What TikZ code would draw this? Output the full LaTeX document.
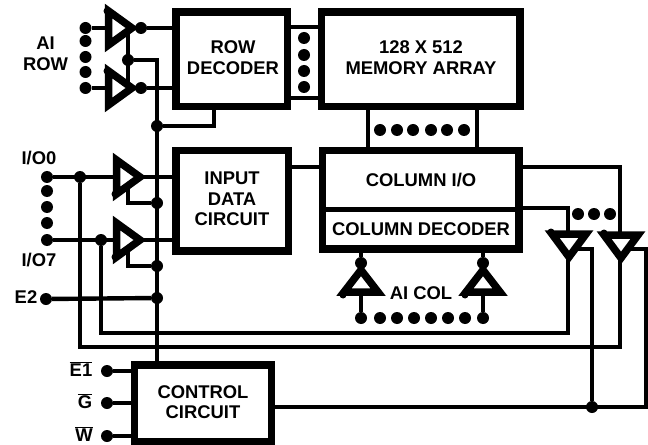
\documentclass[tikz,border=0pt]{standalone}
\usepackage{fontspec}
\setmainfont{Liberation Sans}[BoldFont={Liberation Sans Bold}]
\def\u{0.75pt}
\tikzset{
  x=0.75pt,y=-0.75pt,
  blockbox/.style={draw=black,line width=7.5*\u,fill=white,rectangle,inner sep=0pt,outer sep=0pt,miter limit=10},
  wire/.style={draw=black,line width=4.4*\u},
  bufshape/.style={draw=black,fill=white,line width=7.5*\u,line join=miter,miter limit=10},
  junction/.style={circle,fill=black,draw=none,inner sep=0pt,outer sep=0pt,minimum size=12*\u},
  knob/.style={circle,fill=black,draw=none,inner sep=0pt,outer sep=0pt,minimum size=7*\u},
  txt/.style={inner sep=0pt,outer sep=0pt,align=center,font=\bfseries\fontsize{13.8}{15.5}\selectfont},
}
\begin{document}
\begin{tikzpicture}
\useasboundingbox (0,0) rectangle (648,445);
% blocks
\node[blockbox,minimum width=111.5*\u,minimum height=94.5*\u] (rowdec) at (231.75,59.25) {};
\node[blockbox,minimum width=198.5*\u,minimum height=94.5*\u] (mem) at (420.75,59.5) {};
\node[blockbox,minimum width=112.5*\u,minimum height=100.5*\u] (inp) at (232.25,200.75) {};
\node[blockbox,minimum width=196.5*\u,minimum height=98.5*\u] (col) at (420.75,199.75) {};
\node[blockbox,minimum width=137*\u,minimum height=77*\u] (ctl) at (203,403.5) {};
\draw[line width=5*\u] (col.west |- 0,209) -- (col.east |- 0,209);
% terminals and junctions
\foreach \n/\px/\py in {a0/85.5/28,a1/85.5/41,a2/85.5/57,a3/85.5/72,a4/85.5/88,
  r0/141/28,r1/141/88,ren/128/60,bus/157/126,
  d0/47/177,d1/47/191,d2/47/207,d3/47/223,d4/47/240,
  i0/80/177,i7/101/240,en0/157/203,en7/157/266,e2t/46/299,e2j/157/298,
  m0/304/38,m1/304/55,m2/304/71,m3/304/87,
  c0/380/130,c1/397/130,c2/413/130,c3/431/130,c4/447/130,c5/464/130,
  o0/578/214,o1/594/214,o2/610/214,
  ctj/592/407,
  e1/107/371,g/107/403,w/107/436,
  up0/361/263,up1/483/263,
  s0/361/318,s1/380/318,s2/397/318,s3/414/318,s4/431/318,s5/448/318,s6/465/318,s7/483/318}
  \node[junction] (\n) at (\px,\py) {};
% named corner points
\coordinate (busTop) at (157,60);
\coordinate (busRow) at (214,126);
\coordinate (en0c) at (128,203);
\coordinate (en7c) at (128,266);
\coordinate (io7c) at (101,333);
\coordinate (io7e) at (568,333);
\coordinate (io0c) at (80,347);
\coordinate (io0e) at (620,347);
\coordinate (colOut) at (620,167);
\coordinate (decOut) at (568,208);
\coordinate (en1c) at (592,249);
\coordinate (en2c) at (646,249);
\coordinate (ctlE) at (646,407);
% wires
\draw[wire] (a0) -- (108,28);
\draw[wire] (a4) -- (108,88);
\draw[wire] (r0) -- (r0 -| rowdec.west);
\draw[wire] (r1) -- (r1 -| rowdec.west);
\draw[wire] (128,32) -- (128,84);
\draw[wire] (ren) -- (busTop) -- (ctl.north -| busTop);
\draw[wire] (bus) -- (busRow) -- (busRow |- rowdec.south);
\draw[wire] (rowdec.east |- 0,27) -- (mem.west |- 0,27);
\draw[wire] (rowdec.east |- 0,98) -- (mem.west |- 0,98);
\draw[wire] (368,107) -- (368,150);
\draw[wire] (477,107) -- (477,150);
\draw[wire] (d0) -- (116,177);
\draw[wire] (d4) -- (116,240);
\draw[wire] (140,177) -- (inp.west |- 0,177);
\draw[wire] (140,240) -- (inp.west |- 0,240);
\draw[wire] (128,186) -- (en0c) -- (en0);
\draw[wire] (128,249) -- (en7c) -- (en7);
\draw[wire] (e2t) -- (e2j);
\draw[wire] (i0) -- (io0c) -- (io0e) -- (620,240);
\draw[wire] (i7) -- (io7c) -- (io7e) -- (568,240);
\draw[wire] (inp.east |- 0,167) -- (col.west |- 0,167);
\draw[wire] (col.east |- colOut) -- (colOut) -- (620,236);
\draw[wire] (col.east |- decOut) -- (decOut) -- (568,236);
\draw[wire] (ctl.east |- ctlE) -- (ctlE) -- (en2c) -- (628,249);
\draw[wire] (ctj) -- (en1c) -- (576,249);
\draw[wire] (e1) -- (e1 -| ctl.west);
\draw[wire] (g) -- (g -| ctl.west);
\draw[wire] (w) -- (w -| ctl.west);
\draw[wire] (up0) -- (up0 |- col.south);
\draw[wire] (up1) -- (up1 |- col.south);
\draw[wire] (s0) -- (361,292);
\draw[wire] (s7) -- (483,292);
% buffers
\draw[bufshape] (108.5,11) -- (108.5,45) -- (132,28) -- cycle;
\draw[bufshape] (108.5,71) -- (108.5,105) -- (132,88) -- cycle;
\draw[bufshape] (116.5,160) -- (116.5,194) -- (140,177) -- cycle;
\draw[bufshape] (116.5,223) -- (116.5,257) -- (140,240) -- cycle;
\draw[bufshape] (552,234) -- (586,234) -- (569,257) -- cycle;
\draw[bufshape] (604,235) -- (638,235) -- (621,258) -- cycle;
\draw[bufshape] (344,292) -- (378,292) -- (361,270) -- cycle;
\draw[bufshape] (466,292) -- (500,292) -- (483,270) -- cycle;
\foreach \n/\px/\py in {k0/107/11,k1/107/71,k2/115/194,k3/115/257,k4/551/232,k5/604/233,k6/343/295,k7/465/295}
  \node[knob] (\n) at (\px,\py) {};
% texts
\node[txt] (tRow) at (233,57.5) {ROW\\DECODER};
\node[txt] (tMem) at (421,58) {128 X 512\\MEMORY ARRAY};
\node[txt] (tInp) at (232,199) {INPUT\\DATA\\CIRCUIT};
\node[txt] (tCio) at (421,180) {COLUMN I/O};
\node[txt] (tCdec) at (421,229) {COLUMN DECODER};
\node[txt] (tCtl) at (203,402) {CONTROL\\CIRCUIT};
\node[txt] (tAi) at (45.5,54) {AI\\ROW};
\node[txt] (tIo0) at (39,158) {I/O0};
\node[txt] (tIo7) at (39,260) {I/O7};
\node[txt] (tE2) at (26,297) {E2};
\node[txt] (tE1) at (81,369) {$\overline{\mbox{E1}}$};
\node[txt] (tG) at (85,401) {$\overline{\mbox{G}}$};
\node[txt] (tW) at (84,434) {$\overline{\mbox{W}}$};
\node[txt] (tCol) at (421,293) {AI COL};
\end{tikzpicture}
\end{document}
